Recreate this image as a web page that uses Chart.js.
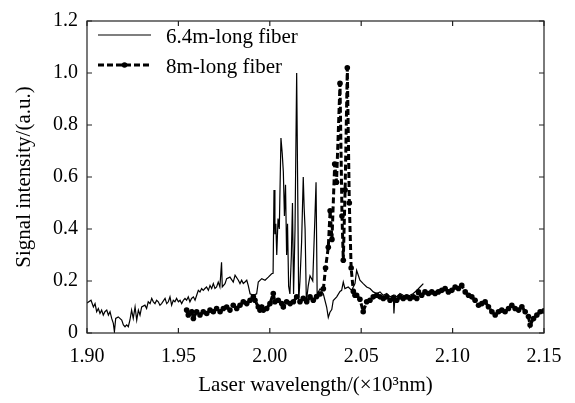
<!DOCTYPE html>
<html>
<head>
<meta charset="utf-8">
<script src="https://cdn.jsdelivr.net/npm/chart.js@4/dist/chart.umd.min.js"></script>
<style>
html,body{margin:0;padding:0;background:#fff;}
#wrap{width:575px;height:403px;}
</style>
</head>
<body>
<div id="wrap"><canvas id="c" width="575" height="403"></canvas></div>
<script>
const seriesLabels = ['6.4m-long fiber', '8m-long fiber'];
const xTickValues = [1.90, 1.95, 2.00, 2.05, 2.10, 2.15];
const yTickValues = [0, 0.2, 0.4, 0.6, 0.8, 1.0, 1.2];

const fiber64X = [1.9000,1.9022,1.9035,1.9044,1.9053,1.9062,1.9071,1.9080,1.9089,1.9098,1.9108,1.9117,1.9126,1.9135,1.9144,1.9150,1.9157,1.9171,1.9190,1.9199,1.9208,1.9217,1.9226,1.9235,1.9244,1.9253,1.9263,1.9272,1.9281,1.9290,1.9299,1.9317,1.9326,1.9335,1.9345,1.9354,1.9363,1.9372,1.9381,1.9390,1.9399,1.9408,1.9427,1.9436,1.9445,1.9454,1.9463,1.9472,1.9481,1.9490,1.9500,1.9509,1.9518,1.9527,1.9536,1.9545,1.9554,1.9563,1.9572,1.9582,1.9591,1.9600,1.9609,1.9618,1.9627,1.9636,1.9645,1.9654,1.9664,1.9673,1.9682,1.9691,1.9700,1.9709,1.9718,1.9727,1.9736,1.9740,1.9755,
1.9764,1.9782,1.9800,1.9810,1.9828,1.9837,1.9846,1.9855,1.9864,1.9874,1.9882,1.9892,1.9910,1.9928,1.9937,1.9956,1.9974,1.9992,2.0010,
2.0018,2.0023,2.0028,2.0033,2.0038,2.0045,2.0052,2.0061,2.0068,2.0074,2.0080,2.0086,2.0092,2.0097,2.0103,2.0110,2.0118,2.0124,2.0130,2.0138,2.0147,2.0152,2.0158,2.0165,2.0174,2.0183,2.0188,2.0193,2.0200,2.0210,2.0220,2.0235,2.0247,2.0253,2.0259,
2.0275,2.0293,2.0311,2.0320,2.0329,2.0339,2.0347,2.0366,2.0384,2.0393,2.0402,2.0411,2.0429,2.0448,2.0466,2.0475,2.0484,2.0493,2.0511,2.0530,2.0548,2.0566,2.0585,2.0603,2.0621,2.0640,2.0658,2.0676,2.0679,2.0685,2.0694,2.0712,2.0730,2.0749,2.0767,2.0785,2.0804,2.0822,2.0840];
const fiber64Y = [0.115,0.126,0.100,0.113,0.082,0.094,0.075,0.088,0.069,0.082,0.088,0.069,0.082,0.056,0.037,0.005,0.056,0.062,0.050,0.031,0.024,0.031,0.024,0.050,0.088,0.056,0.100,0.050,0.088,0.069,0.100,0.107,0.094,0.120,0.113,0.133,0.120,0.113,0.126,0.120,0.107,0.113,0.133,0.113,0.120,0.139,0.107,0.126,0.120,0.133,0.120,0.126,0.113,0.126,0.133,0.126,0.139,0.120,0.133,0.139,0.126,0.145,0.164,0.158,0.171,0.164,0.171,0.177,0.164,0.183,0.171,0.190,0.171,0.177,0.196,0.177,0.272,0.177,0.190,
0.209,0.215,0.196,0.222,0.203,0.190,0.203,0.190,0.196,0.203,0.183,0.151,0.145,0.151,0.196,0.209,0.203,0.215,0.228,
0.23,0.55,0.38,0.42,0.30,0.44,0.40,0.75,0.69,0.62,0.45,0.57,0.30,0.42,0.18,0.15,0.30,0.50,0.15,0.40,1.00,0.60,0.12,0.20,0.35,0.60,0.48,0.40,0.12,0.18,0.22,0.20,0.45,0.58,0.15,
0.17,0.15,0.10,0.06,0.08,0.09,0.125,0.139,0.160,0.164,0.196,0.171,0.177,0.164,0.190,0.241,0.222,0.203,0.190,0.177,0.171,0.158,0.152,0.158,0.145,0.152,0.139,0.145,0.075,0.145,0.139,0.152,0.145,0.139,0.145,0.152,0.164,0.177,0.190];

const fiber8X = [1.9545,1.9554,1.9573,1.9582,1.9600,1.9618,1.9636,1.9655,1.9673,1.9691,1.9709,1.9728,1.9746,1.9764,1.9782,1.9800,1.9819,1.9837,1.9855,1.9874,1.9892,1.9910,1.9919,1.9937,1.9946,1.9956,1.9965,1.9983,2.0001,2.0019,2.0028,2.0046,2.0065,2.0074,2.0092,2.0111,2.0129,2.0147,2.0165,2.0183,2.0202,2.0220,2.0238,
2.0256,2.0275,2.0293,2.0305,2.0320,2.0330,2.0340,2.0355,2.0365,2.0384,2.0395,2.0402,2.0412,2.0424,2.0435,2.0445,2.0457,2.0466,
2.0475,2.0493,2.0511,2.0530,2.0548,2.0566,2.0585,2.0603,2.0621,2.0640,2.0658,2.0676,2.0694,2.0712,2.0730,2.0749,2.0767,2.0785,2.0804,2.0813,2.0831,2.0849,2.0868,2.0886,2.0904,2.0922,2.0941,2.0959,2.0977,2.0996,2.1014,2.1032,2.1050,2.1069,2.1087,2.1105,2.1123,2.1142,2.1160,2.1178,2.1196,2.1215,2.1233,2.1251,2.1269,2.1287,2.1306,2.1324,2.1342,2.1361,2.1379,2.1397,2.1415,2.1424,2.1443,2.1461,2.1479,2.1500];
const fiber8Y = [0.088,0.069,0.082,0.056,0.082,0.069,0.082,0.075,0.088,0.082,0.094,0.082,0.094,0.100,0.088,0.107,0.094,0.107,0.120,0.113,0.126,0.139,0.126,0.100,0.088,0.100,0.088,0.094,0.113,0.152,0.120,0.126,0.113,0.100,0.120,0.113,0.120,0.139,0.120,0.133,0.120,0.139,0.126,
0.14,0.15,0.17,0.25,0.33,0.47,0.36,0.65,0.58,0.96,0.45,0.28,0.55,1.02,0.50,0.25,0.16,0.145,
0.145,0.130,0.082,0.120,0.126,0.139,0.145,0.139,0.133,0.139,0.126,0.133,0.126,0.139,0.133,0.139,0.133,0.139,0.133,0.158,0.145,0.158,0.152,0.158,0.152,0.158,0.164,0.171,0.158,0.164,0.177,0.171,0.183,0.158,0.145,0.139,0.126,0.107,0.113,0.120,0.101,0.082,0.069,0.082,0.088,0.082,0.094,0.107,0.094,0.088,0.101,0.082,0.063,0.031,0.056,0.069,0.082,0.085];

const toPts = (xs, ys) => xs.map((x, i) => ({x: x, y: ys[i]}));

const FONT = "'Liberation Serif', 'Times New Roman', serif";

const frameTicks = {
  id: 'frameTicks',
  afterDraw(chart) {
    const {ctx, chartArea: a, scales: {x, y}} = chart;
    ctx.save();
    ctx.strokeStyle = '#222';
    ctx.lineWidth = 1.2;
    ctx.setLineDash([]);
    ctx.strokeRect(a.left, a.top, a.right - a.left, a.bottom - a.top);
    const L = 5;
    ctx.beginPath();
    xTickValues.forEach(v => {
      const px = x.getPixelForValue(v);
      ctx.moveTo(px, a.bottom); ctx.lineTo(px, a.bottom - L);
      ctx.moveTo(px, a.top); ctx.lineTo(px, a.top + L);
    });
    yTickValues.forEach(v => {
      const py = y.getPixelForValue(v);
      ctx.moveTo(a.left, py); ctx.lineTo(a.left + L, py);
      ctx.moveTo(a.right, py); ctx.lineTo(a.right - L, py);
    });
    ctx.stroke();

    // legend inside plot
    const ds = chart.data.datasets;
    const lx0 = a.left + 11, lx1 = a.left + 64, tx = a.left + 79;
    const rows = [a.top + 15, a.top + 45];
    ctx.font = '21px ' + FONT;
    ctx.fillStyle = '#000';
    ctx.textBaseline = 'middle';
    ctx.textAlign = 'left';
    ds.forEach((d, i) => {
      const yy = rows[i];
      ctx.beginPath();
      ctx.strokeStyle = '#000';
      ctx.lineWidth = d.borderWidth;
      ctx.setLineDash(d.borderDash || []);
      ctx.moveTo(lx0, yy - 1); ctx.lineTo(lx1, yy - 1);
      ctx.stroke();
      ctx.setLineDash([]);
      if (d.pointRadius > 0) {
        ctx.beginPath();
        ctx.arc((lx0 + lx1) / 2, yy - 1, d.pointRadius, 0, Math.PI * 2);
        ctx.fill();
      }
      ctx.fillText(d.label, tx, yy + 1);
    });
    ctx.restore();
  }
};

new Chart(document.getElementById('c'), {
  type: 'line',
  data: {
    datasets: [
      {
        label: seriesLabels[0],
        data: toPts(fiber64X, fiber64Y),
        borderColor: '#000',
        borderWidth: 1.2,
        pointRadius: 0,
        tension: 0,
        fill: false
      },
      {
        label: seriesLabels[1],
        data: toPts(fiber8X, fiber8Y),
        borderColor: '#000',
        borderWidth: 3,
        borderDash: [6, 3],
        pointRadius: 2.8,
        pointBackgroundColor: '#000',
        pointBorderWidth: 0,
        tension: 0,
        fill: false
      }
    ]
  },
  options: {
    responsive: false,
    animation: false,
    devicePixelRatio: 1,
    layout: { padding: { top: 19, right: 31, left: 0, bottom: 0 } },
    plugins: { legend: { display: false }, tooltip: { enabled: false } },
    scales: {
      x: {
        type: 'linear',
        min: 1.90, max: 2.15,
        afterBuildTicks(s) { s.ticks = xTickValues.map(v => ({value: v})); },
        afterFit(s) { s.height = 70; },
        grid: { display: false, drawTicks: false },
        border: { display: false },
        ticks: {
          padding: 12,
          color: '#000',
          font: { family: FONT, size: 20 },
          maxRotation: 0,
          callback: v => Number(v).toFixed(2)
        },
        title: {
          display: true,
          text: 'Laser wavelength/(×10³nm)',
          color: '#000',
          font: { family: FONT, size: 21 },
          padding: { top: 0, bottom: 5 }
        }
      },
      y: {
        type: 'linear',
        min: 0, max: 1.2,
        afterBuildTicks(s) { s.ticks = yTickValues.map(v => ({value: v})); },
        afterFit(s) { s.width = 87; },
        grid: { display: false, drawTicks: false },
        border: { display: false },
        ticks: {
          padding: 9,
          color: '#000',
          font: { family: FONT, size: 20 },
          callback: v => (v === 0 ? '0' : Number(v).toFixed(1))
        },
        title: {
          display: true,
          text: 'Signal intensity/(a.u.)',
          color: '#000',
          font: { family: FONT, size: 21 },
          padding: { top: 12, bottom: 0 }
        }
      }
    }
  },
  plugins: [frameTicks]
});
</script>
</body>
</html>
